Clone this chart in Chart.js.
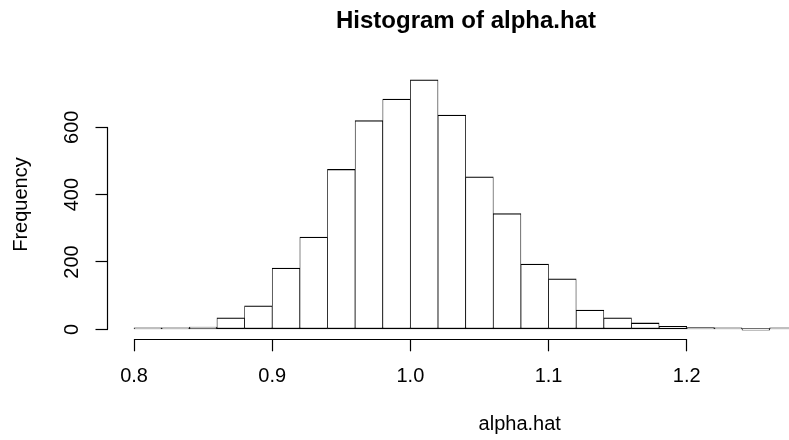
<!DOCTYPE html>
<html>
<head>
<meta charset="utf-8">
<title>Histogram of alpha.hat</title>
<script src="https://cdn.jsdelivr.net/npm/chart.js@4.4.1/dist/chart.umd.min.js"></script>
<style>
  html, body { margin: 0; padding: 0; background: #fff; overflow: hidden; }
  #wrap { width: 932px; height: 440px; }
</style>
</head>
<body>
<div id="wrap"><canvas id="hist" width="932" height="440"></canvas></div>
<script>
// histogram bins (left edges, width 0.02) and their counts
const binStarts = [0.80, 0.82, 0.84, 0.86, 0.88, 0.90, 0.92, 0.94, 0.96, 0.98, 1.00, 1.02,
                   1.04, 1.06, 1.08, 1.10, 1.12, 1.14, 1.16, 1.18, 1.20, 1.22, 1.24, 1.26];
const binWidth = 0.02;
const counts = [1, 3, 7, 34, 70, 182, 274, 475, 620, 684, 741, 636,
                453, 344, 194, 150, 57, 34, 19, 9, 5, 1, 0, 1];

const xTicks = [0.8, 0.9, 1.0, 1.1, 1.2];
const xTickLabels = ["0.8", "0.9", "1.0", "1.1", "1.2"];
const yTicks = [0, 200, 400, 600];
const yTickLabels = ["0", "200", "400", "600"];

const FONT = "'Liberation Sans', Arial, Helvetica, sans-serif";
Chart.defaults.color = "#000";
Chart.defaults.font.family = FONT;

/* R style axes: line only from first to last tick, rotated y labels */
const rAxes = {
    id: "rAxes",
    afterDraw(chart) {
        const { ctx, chartArea, scales } = chart;
        const x = scales.x, y = scales.y;
        ctx.save();
        ctx.strokeStyle = "#000";
        ctx.lineWidth = 1.2;
        ctx.lineCap = "butt";

        const ay = Math.round(chartArea.bottom) + 0.5;
        ctx.beginPath();
        ctx.moveTo(x.getPixelForValue(xTicks[0]), ay);
        ctx.lineTo(x.getPixelForValue(xTicks[xTicks.length - 1]), ay);
        ctx.stroke();

        const ax = Math.round(chartArea.left) - 0.5;
        ctx.beginPath();
        ctx.moveTo(ax, y.getPixelForValue(yTicks[0]));
        ctx.lineTo(ax, y.getPixelForValue(yTicks[yTicks.length - 1]));
        ctx.stroke();

        ctx.fillStyle = "#000";
        ctx.font = "20px " + FONT;
        ctx.textAlign = "center";
        ctx.textBaseline = "alphabetic";
        yTicks.forEach((v, i) => {
            ctx.save();
            ctx.translate(chartArea.left - 30, y.getPixelForValue(v));
            ctx.rotate(-Math.PI / 2);
            ctx.fillText(yTickLabels[i], 0, 0);
            ctx.restore();
        });
        ctx.restore();
    }
};

new Chart(document.getElementById("hist"), {
    type: "bar",
    data: {
        datasets: [{
            data: binStarts.map((s, i) => ({ x: s + binWidth / 2, y: counts[i] })),
            backgroundColor: "#fff",
            borderColor: "#000",
            borderWidth: { top: 1.3, bottom: 1.3, left: 0.75, right: 0.75 },
            borderSkipped: false,
            minBarLength: 1.6,
            barPercentage: 1,
            categoryPercentage: 1
        }]
    },
    options: {
        responsive: false,
        animation: false,
        devicePixelRatio: 1,
        layout: { padding: 0 },
        plugins: {
            legend: { display: false },
            tooltip: { enabled: false },
            title: {
                display: true,
                text: "Histogram of alpha.hat",
                font: { size: 24, weight: "bold", family: FONT },
                color: "#000",
                padding: { top: 6.7, bottom: 34.3 }
            }
        },
        scales: {
            x: {
                type: "linear",
                min: 0.7808,
                max: 1.3775,
                offset: false,
                afterBuildTicks: s => { s.ticks = xTicks.map(v => ({ value: v })); },
                afterFit: s => { s.height = 100.7; },
                grid: {
                    offset: false,
                    drawOnChartArea: false,
                    drawTicks: true,
                    tickLength: 12,
                    tickWidth: 1.2,
                    tickColor: "#000"
                },
                border: { display: false },
                ticks: {
                    padding: 12.8,
                    maxRotation: 0,
                    autoSkip: false,
                    font: { size: 20 },
                    callback: (v, i) => xTickLabels[i]
                },
                title: {
                    display: true,
                    text: "alpha.hat",
                    font: { size: 20 },
                    padding: { top: 0, bottom: 4 }
                }
            },
            y: {
                min: -29.64,
                max: 770.64,
                afterBuildTicks: s => { s.ticks = yTicks.map(v => ({ value: v })); },
                afterFit: s => { s.width = 107.5; },
                grid: {
                    drawOnChartArea: false,
                    drawTicks: true,
                    tickLength: 12,
                    tickWidth: 1.2,
                    tickColor: "#000"
                },
                border: { display: false },
                ticks: { display: false },
                title: {
                    display: true,
                    text: "Frequency",
                    font: { size: 20 },
                    padding: { top: 9, bottom: 0 }
                }
            }
        }
    },
    plugins: [rAxes]
});
</script>
</body>
</html>
